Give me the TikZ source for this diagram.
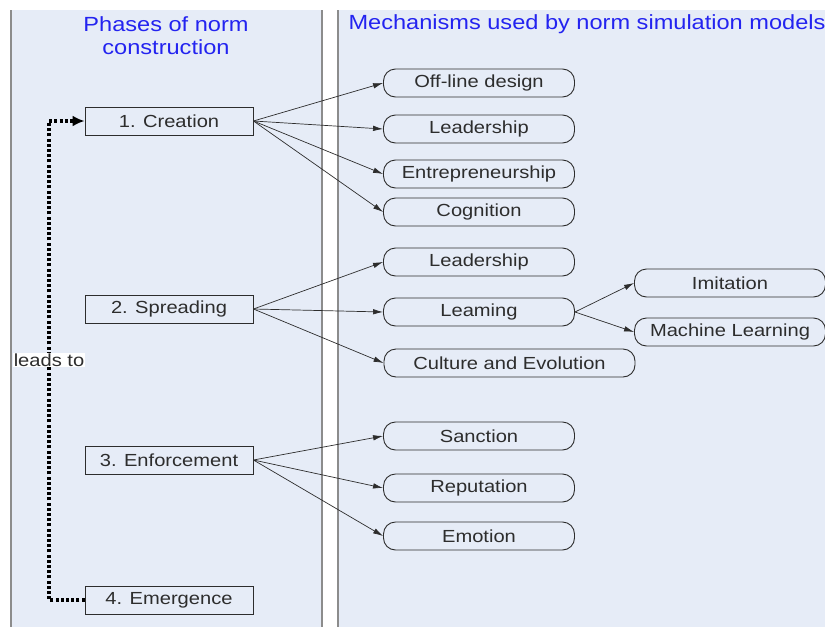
\documentclass[tikz,border=0pt]{standalone}
\usepackage{fontspec}
\setmainfont[FakeStretch=1.15]{Liberation Sans}
\usetikzlibrary{arrows.meta}
\definecolor{panelblue}{RGB}{230,236,247}
\definecolor{panelline}{RGB}{140,140,140}
\definecolor{titleblue}{RGB}{35,35,240}
\definecolor{textgray}{RGB}{45,45,45}
\begin{document}
\begin{tikzpicture}[x=1pt,y=-1pt,
	phase/.style={draw=textgray, line width=0.9pt, fill=panelblue, minimum width=168pt, minimum height=28pt, inner sep=0pt, text=textgray, font=\fontsize{17.5}{20}\selectfont},
	mech/.style={draw=textgray, line width=0.9pt, rounded corners=12pt, minimum width=191pt, minimum height=28pt, inner sep=0pt, text=textgray, font=\fontsize{17.5}{20}\selectfont},
	link/.style={-{Latex[length=10pt,width=5.5pt]}, textgray, line width=0.7pt}]
	\useasboundingbox (0,0) rectangle (825,627);
	% panels
	\fill[panelblue] (11,10) rectangle (322,627);
	\fill[panelblue] (338,10) rectangle (825,627);
	\draw[panelline, line width=2pt] (11,10) -- (11,627);
	\draw[panelline, line width=2pt] (322,10) -- (322,627);
	\draw[panelline, line width=2pt] (338,10) -- (338,627);
	\node[titleblue, align=center, font=\fontsize{20.5}{23}\selectfont] (phtitle) at (166,36) {Phases of norm\\construction};
	\node[titleblue, anchor=west, font=\fontsize{20.5}{23}\selectfont] (mechtitle) at (345,24) {Mechanisms used by norm simulation models};
	% phases
	\node[phase] (create) at (169,121) {1. Creation};
	\node[phase] (spread) at (169,309) {2. Spreading};
	\node[phase] (enforce) at (169,460) {3. Enforcement};
	\node[phase] (emerge) at (169,600) {4. Emergence};
	% mechanisms
	\node[mech] (offline) at (479,83) {Off-line design};
	\node[mech] (leadA) at (479,129) {Leadership};
	\node[mech] (entre) at (479,174) {Entrepreneurship};
	\node[mech] (cogn) at (479,212) {Cognition};
	\node[mech] (leadB) at (479,262) {Leadership};
	\node[mech] (learn) at (479,312) {Leaming};
	\node[mech, minimum width=251pt] (culture) at (509.5,363) {Culture and Evolution};
	\node[mech] (imit) at (730,283) {Imitation};
	\node[mech] (machine) at (730,332) {Machine Learning};
	\node[mech] (sanct) at (479,436) {Sanction};
	\node[mech] (reput) at (479,488) {Reputation};
	\node[mech] (emot) at (479,536) {Emotion};
	\foreach \m in {offline,leadA,entre,cogn} {
		\draw[link] (create.east) -- (\m.west);
	}
	\foreach \m in {leadB,learn,culture} {
		\draw[link] (spread.east) -- (\m.west);
	}
	\foreach \m in {imit,machine} {
		\draw[link] (learn.east) -- (\m.west);
	}
	\foreach \m in {sanct,reput,emot} {
		\draw[link] (enforce.east) -- (\m.west);
	}
	% loop back
	\coordinate (bend) at (49,600);
	\draw[line width=3.2pt, dash pattern=on 3pt off 2.2pt, -{Latex[length=12pt,width=11pt]}] (emerge.west) -- (bend) |- (create.west);
	\node[fill=white, inner sep=1pt, text=textgray, font=\fontsize{17.5}{20}\selectfont] (leads) at (49,360) {leads to};
\end{tikzpicture}
\end{document}
